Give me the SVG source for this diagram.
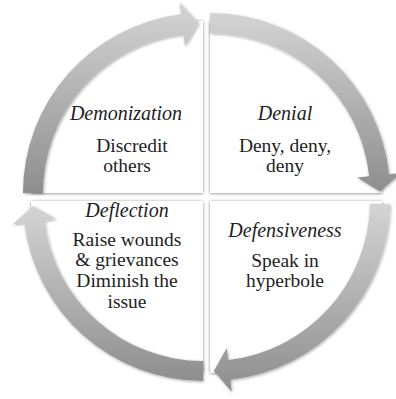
<svg xmlns="http://www.w3.org/2000/svg" width="396" height="399" viewBox="0 0 396 399">
  <defs>
    <linearGradient id="arrowGrad" x1="0" y1="0" x2="0" y2="1">
      <stop offset="0" stop-color="#d4d4d4"/>
      <stop offset="1" stop-color="#8e8e8e"/>
    </linearGradient>
    <filter id="pieShadow" x="-10%" y="-10%" width="120%" height="120%">
      <feDropShadow dx="0" dy="0.5" stdDeviation="1.4" flood-color="#000" flood-opacity="0.5"/>
    </filter>
    <filter id="arrowShadow" x="-10%" y="-10%" width="120%" height="120%">
      <feDropShadow dx="0.8" dy="1" stdDeviation="1.5" flood-color="#000" flood-opacity="0.35"/>
    </filter>
  </defs>
  <style>
    .pie { fill: #ffffff; filter: url(#pieShadow); }
    .arrow { fill: url(#arrowGrad); filter: url(#arrowShadow); }
    .title { font-family: "Liberation Serif", "Times New Roman", serif; font-style: italic; font-size: 20px; fill: #1e1e1e; text-anchor: middle; }
    .body { font-family: "Liberation Serif", "Times New Roman", serif; font-size: 19.5px; fill: #1e1e1e; text-anchor: middle; }
  </style>
  <rect width="396" height="399" fill="#ffffff"/>

  <g id="node-demonization">
    <path class="pie" d="M203,193 L31,193 A172,172 0 0,1 203,21 Z"/>
  </g>
  <g id="node-denial">
    <path class="pie" d="M210,193 L210,21 A172,172 0 0,1 382,193 Z"/>
  </g>
  <g id="node-defensiveness">
    <path class="pie" d="M210,201 L382,201 A172,172 0 0,1 210,373 Z"/>
  </g>
  <g id="node-deflection">
    <path class="pie" d="M203,201 L203,373 A172,172 0 0,1 31,201 Z"/>
  </g>

  <g id="connectors">
    <path class="arrow" d="M23,193 A180,180 0 0,1 181.06,14.34 L179.60,2.43 L198.55,23.06 L184.96,46.10 L183.50,34.19 A160,160 0 0,0 43,193 Z"/>
    <path class="arrow" d="M210,13 A180,180 0 0,1 389.01,174.18 L400.95,172.93 L379.99,191.52 L357.19,177.53 L369.12,176.28 A160,160 0 0,0 210,33 Z"/>
    <path class="arrow" d="M389.97,204.14 A180,180 0 0,1 230.38,379.84 L231.73,391.77 L213.86,370.96 L226.75,348.05 L228.11,359.97 A160,160 0 0,0 369.98,203.79 Z"/>
    <path class="arrow" d="M203,381 A180,180 0 0,1 24.34,222.94 L12.43,224.40 L33.07,206.04 L56.10,219.04 L44.19,220.50 A160,160 0 0,0 203,361 Z"/>
  </g>

  <g id="labels-demonization">
    <text class="title" x="126" y="120">Demonization</text>
    <text class="body" x="132" y="152">Discredit</text>
    <text class="body" x="127" y="172">others</text>
  </g>
  <g id="labels-denial">
    <text class="title" x="285" y="120">Denial</text>
    <text class="body" x="285" y="152">Deny, deny,</text>
    <text class="body" x="285" y="172">deny</text>
  </g>
  <g id="labels-defensiveness">
    <text class="title" x="285" y="237">Defensiveness</text>
    <text class="body" x="285" y="267">Speak in</text>
    <text class="body" x="285" y="287">hyperbole</text>
  </g>
  <g id="labels-deflection">
    <text class="title" x="127" y="217">Deflection</text>
    <text class="body" x="127" y="246">Raise wounds</text>
    <text class="body" x="127" y="266">&amp; grievances</text>
    <text class="body" x="127" y="287">Diminish the</text>
    <text class="body" x="127" y="308">issue</text>
  </g>
</svg>
